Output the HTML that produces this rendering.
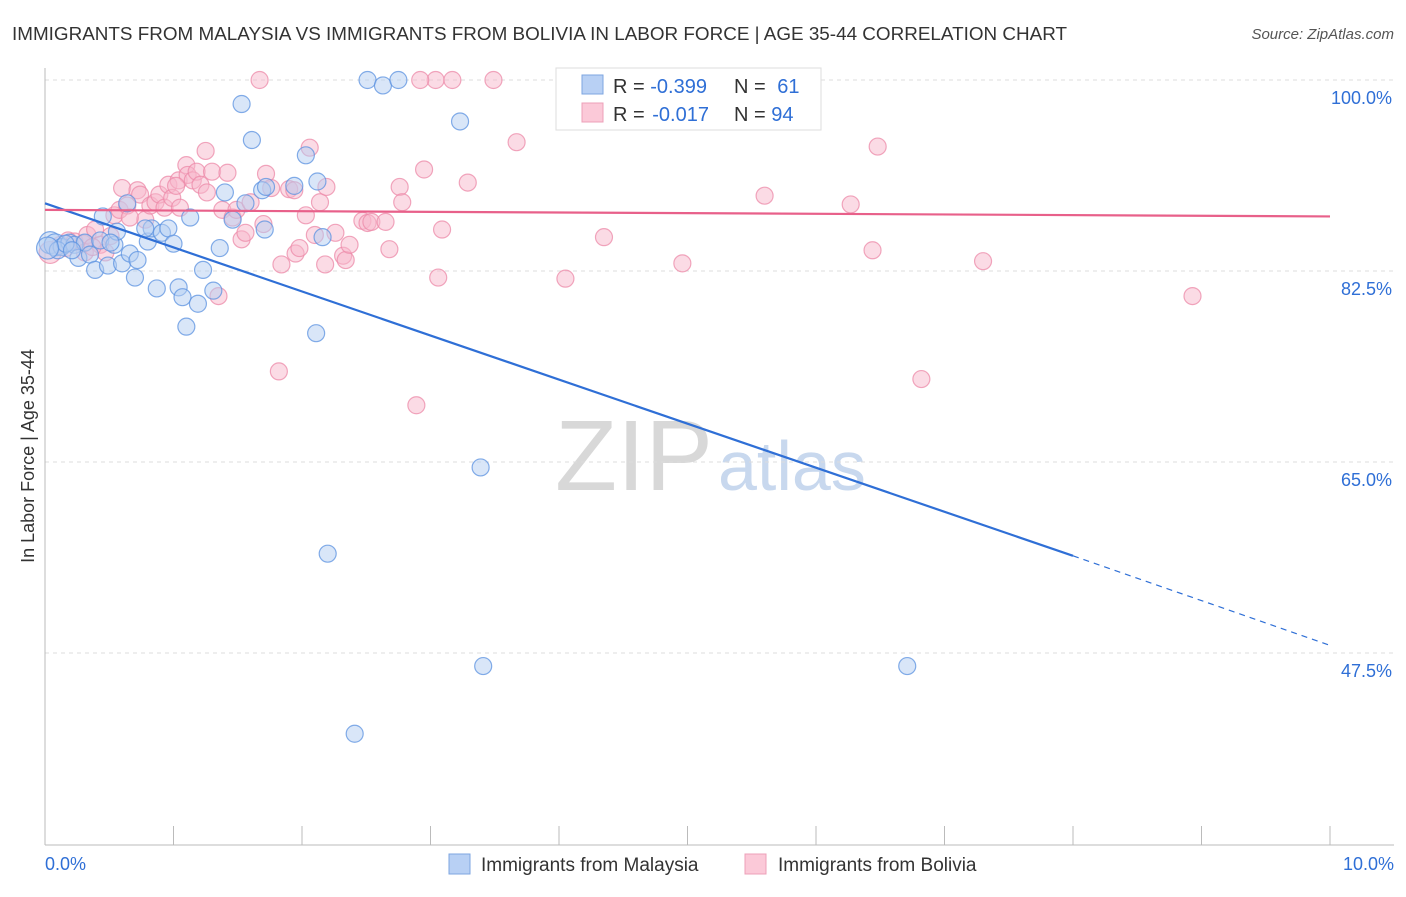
<!DOCTYPE html>
<html><head><meta charset="utf-8"><style>
body{margin:0;background:#fff;font-family:"Liberation Sans",sans-serif;}
svg text{font-family:"Liberation Sans",sans-serif;}
</style></head><body>
<svg id="c" width="1406" height="892">
<text x="12" y="40" font-size="18" fill="#333" textLength="1055" lengthAdjust="spacingAndGlyphs">IMMIGRANTS FROM MALAYSIA VS IMMIGRANTS FROM BOLIVIA IN LABOR FORCE | AGE 35-44 CORRELATION CHART</text>
<text x="1394" y="39" font-size="15" fill="#555" font-style="italic" text-anchor="end">Source: ZipAtlas.com</text>
<text x="555" y="490" font-size="100" fill="#d8d8d8" textLength="158" lengthAdjust="spacingAndGlyphs" font-family="Liberation Serif">ZIP</text>
<text x="718" y="490" font-size="70" fill="#c8d8ee">atlas</text>
<text transform="translate(34,456) rotate(-90)" font-size="18" fill="#333" text-anchor="middle">In Labor Force | Age 35-44</text>
<g id="grid"></g><g id="pts"></g><g id="lines"></g>
<g>
<rect x="556" y="68" width="265" height="62" fill="#fff" stroke="#ddd"/>
<rect x="582" y="75" width="21" height="19" fill="#b8d0f4" stroke="#7ea6e0"/>
<rect x="582" y="103" width="21" height="19" fill="#fbc9d8" stroke="#eda0b8"/>
<text x="613" y="93" font-size="20" fill="#333">R = <tspan fill="#2f6fd6">-0.399</tspan></text>
<text x="734" y="93" font-size="20" fill="#333">N = <tspan fill="#2f6fd6" dx="6">61</tspan></text>
<text x="613" y="121" font-size="20" fill="#333">R = <tspan fill="#2f6fd6" dx="2">-0.017</tspan></text>
<text x="734" y="121" font-size="20" fill="#333">N = <tspan fill="#2f6fd6">94</tspan></text>
</g>
<g>
<rect x="449" y="854" width="21" height="20" fill="#b8d0f4" stroke="#7ea6e0"/>
<text x="481" y="871" font-size="19" fill="#333">Immigrants from Malaysia</text>
<rect x="745" y="854" width="21" height="20" fill="#fbc9d8" stroke="#eda0b8"/>
<text x="778" y="871" font-size="19" fill="#333">Immigrants from Bolivia</text>
</g>
</svg>
<script>
const yTicks=[100,82.5,65,47.5];
const yTickLabels=["100.0%","82.5%","65.0%","47.5%"];
const xTicks=[0,1,2,3,4,5,6,7,8,9,10];
const xEndLabels=["0.0%","10.0%"];
const blueX=[.04,.08,.13,.19,.23,.26,.31,.35,.39,.43,.45,.49,.54,.56,.60,.64,.66,.70,.72,.80,.83,.87,.91,.96,1.00,1.04,1.07,1.10,1.13,1.19,1.23,1.31,1.36,1.40,1.46,1.53,1.61,1.69,1.71,1.72,1.94,2.03,2.11,2.12,2.16,2.20,2.41,2.51,2.63,2.75,3.23,3.39,3.41,6.71,.10,.16,.21,.51,.78,1.56,.02];
const blueY=[85.1,84.9,84.7,85.1,84.9,83.7,85.1,84.0,82.6,85.3,87.5,83.0,84.9,86.1,83.2,88.7,84.1,81.9,83.5,85.2,86.4,80.9,86.0,86.4,85.0,81.0,80.1,77.4,87.4,79.5,82.6,80.7,84.6,89.7,87.2,97.8,94.5,89.9,86.3,90.2,90.3,93.1,76.8,90.7,85.6,56.6,40.1,100,99.5,100,96.2,64.5,46.3,46.3,84.4,85.0,84.4,85.1,86.4,88.7,84.6];
const pinkX=[.04,.12,.18,.23,.30,.33,.39,.43,.47,.51,.54,.58,.60,.64,.72,.74,.78,.82,.86,.89,.93,.96,.99,1.04,1.05,1.10,1.11,1.15,1.18,1.21,1.25,1.26,1.30,1.35,1.38,1.42,1.46,1.49,1.53,1.56,1.60,1.67,1.70,1.72,1.76,1.82,1.84,1.90,1.94,1.95,2.03,2.06,2.10,2.14,2.18,2.19,2.32,2.34,2.37,2.47,2.51,2.54,2.65,2.68,2.76,2.78,2.89,2.95,3.04,3.06,3.09,3.17,3.29,3.49,3.67,4.05,4.35,4.96,5.60,6.27,6.44,6.48,6.82,7.30,8.93,.16,.31,.37,.66,1.02,1.98,2.26,2.92,4.24];
const pinkY=[84.2,84.9,85.3,85.2,85.0,85.8,86.3,84.9,84.2,85.7,87.6,88.1,90.1,88.5,89.9,89.5,87.2,88.5,88.8,89.5,88.3,90.4,89.2,90.8,88.3,92.2,91.3,90.8,91.6,90.4,93.5,89.7,91.6,80.2,88.1,91.5,87.4,88.1,85.4,86.0,88.8,100,86.8,91.4,90.1,73.3,83.1,90.0,89.9,84.1,87.6,93.8,85.8,88.8,83.1,90.2,83.9,83.5,84.9,87.1,86.9,87.0,87.0,84.5,90.2,88.8,70.2,91.8,100,81.9,86.3,100,90.6,100,94.3,81.8,85.6,83.2,89.4,88.6,84.4,93.9,72.6,83.4,80.2,84.6,84.2,84.7,87.4,90.3,84.6,86.0,100,100];
const blueTrendX=[0,8,10];
const blueTrendY=[88.7,56.4,48.2];
const pinkTrendX=[0,10];
const pinkTrendY=[88.1,87.5];
const NS="http://www.w3.org/2000/svg";
const X=v=>45+v*128.5;
const Y=v=>80+(100-v)*10.914;
function mk(tag,attrs,parent){const e=document.createElementNS(NS,tag);for(const k in attrs)e.setAttribute(k,attrs[k]);document.getElementById(parent).appendChild(e);return e;}
yTicks.forEach((t,i)=>{
 const l=mk('line',{x1:45,x2:1394,y1:Y(t),y2:Y(t),stroke:'#ddd','stroke-dasharray':'4,4'},'grid');
 
 
 const tx=mk('text',{x:1392,y:Y(t)+24,'font-size':18,fill:'#2f6fd6','text-anchor':'end'},'grid');tx.textContent=yTickLabels[i];
 
 
});
const ax=mk('line',{x1:45,x2:45,y1:68,y2:845,stroke:'#bbb'},'grid');


const bx=mk('line',{x1:45,x2:1394,y1:845,y2:845,stroke:'#bbb'},'grid');


xTicks.forEach(t=>{const l=mk('line',{x1:X(t),x2:X(t),y1:826,y2:845,stroke:'#bbb'},'grid');
 
 });
[[0,'start',45],[10,'end',1394]].forEach((d,i)=>{const tx=mk('text',{x:d[2],y:870,'font-size':18,fill:'#2f6fd6','text-anchor':d[1]},'grid');tx.textContent=xEndLabels[i];
 
 });
function pts(xs,ys,fill,stroke,name){xs.forEach((x,i)=>{const c=mk('circle',{cx:X(x),cy:Y(ys[i]),r:(x<0.1?11:8.5),fill:fill,'fill-opacity':0.5,stroke:stroke,'stroke-opacity':0.75,'stroke-width':1.2},'pts');
 
 });}
pts(pinkX,pinkY,'#f8b8cc','#ec8aa8','bolivia-point');
pts(blueX,blueY,'#b3cdf2','#5b92e0','malaysia-point');
const b1=mk('line',{x1:X(blueTrendX[0]),y1:Y(blueTrendY[0]),x2:X(blueTrendX[1]),y2:Y(blueTrendY[1]),stroke:'#2f6fd6','stroke-width':2.2},'lines');


const b2=mk('line',{x1:X(blueTrendX[1]),y1:Y(blueTrendY[1]),x2:X(blueTrendX[2]),y2:Y(blueTrendY[2]),stroke:'#2f6fd6','stroke-width':1.2,'stroke-dasharray':'6,5'},'lines');


const p1=mk('line',{x1:X(pinkTrendX[0]),y1:Y(pinkTrendY[0]),x2:X(pinkTrendX[1]),y2:Y(pinkTrendY[1]),stroke:'#e8608a','stroke-width':2.2},'lines');


</script>
</body></html>
